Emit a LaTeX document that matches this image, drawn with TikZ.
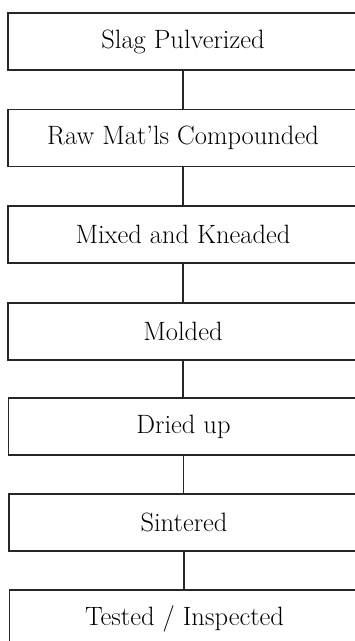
\documentclass[tikz,border=0pt]{standalone}
\begin{document}
\begin{tikzpicture}[x=1pt,y=1pt,
  stepbox/.style={draw=black!85, line width=1.4pt, rectangle, minimum width=350pt,
    minimum height=57pt, inner sep=0pt, font=\fontsize{26.5}{30}\selectfont},
  link/.style={draw=black!85, line width=1.3pt}]
\useasboundingbox (0,0) rectangle (355,641);
\clip (0,0) rectangle (355,641);
\node[stepbox] (b1) at (183,641-41.5) {Slag Pulverized};
\node[stepbox] (b2) at (183,641-138) {Raw Mat'ls Compounded};
\node[stepbox] (b3) at (183,641-234.5) {Mixed and Kneaded};
\node[stepbox] (b4) at (183,641-331.5) {Molded};
\node[stepbox] (b5) at (183.5,641-426.5) {Dried up};
\node[stepbox] (b6) at (184,641-522.5) {Sintered};
\node[stepbox] (b7) at (184.5,641-618.5) {Tested / Inspected};
\draw[link] (b1.south) -- (b1.south |- b2.north);
\draw[link] (b2.south) -- (b2.south |- b3.north);
\draw[link] (b3.south) -- (b3.south |- b4.north);
\draw[link] (b4.south) -- (b4.south |- b5.north);
\draw[link] (b5.south) -- (b5.south |- b6.north);
\draw[link] (b6.south) -- (b6.south |- b7.north);
\end{tikzpicture}
\end{document}
